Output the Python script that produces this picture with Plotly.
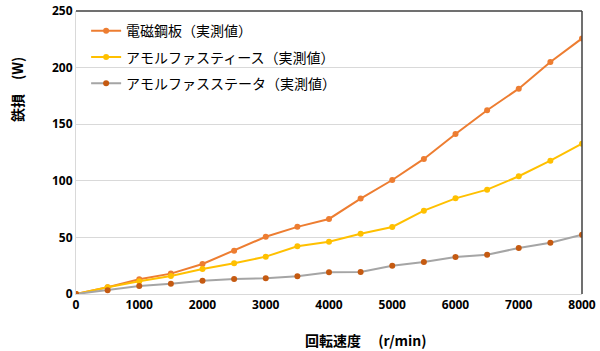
import plotly.graph_objects as go

speed = [0, 500, 1000, 1500, 2000, 2500, 3000, 3500, 4000, 4500, 5000, 5500, 6000, 6500, 7000, 7500, 8000]
steel = [0, 6, 13, 18, 26.5, 38.3, 50.6, 59.3, 66.3, 84.3, 100.7, 119.3, 141.3, 162.3, 181.4, 205, 225.8]
amorph_teeth = [0, 6, 11.2, 15.9, 22.1, 27.1, 33, 42.1, 46.2, 53.3, 59.2, 73.6, 84.5, 92.2, 104, 117.8, 132.8]
amorph_stator = [0, 3.3, 7.1, 9.1, 11.8, 13.3, 13.9, 15.6, 19.2, 19.5, 25, 28.3, 32.7, 34.7, 40.6, 45.3, 52.4]
names = ["電磁鋼板（実測値）", "アモルファスティース（実測値）", "アモルファスステータ（実測値）"]
yticks = [0, 50, 100, 150, 200, 250]
xticks = [0, 1000, 2000, 3000, 4000, 5000, 6000, 7000, 8000]

font = "Noto Sans CJK JP"
L, R, T, B = 76, 582, 11, 294
fig = go.Figure()
series = [
    (steel, "#ED7D31", "#ED7D31"),
    (amorph_teeth, "#FFC000", "#FFC000"),
    (amorph_stator, "#A5A5A5", "#C55A11"),
]
for i, ((vals, lc, mc), nm) in enumerate(zip(series, names)):
    fig.add_trace(go.Scatter(
        x=speed, y=vals, name=nm, mode="lines+markers", legendgroup=f"g{i}",
        line=dict(color=lc, width=2), marker=dict(color=mc, size=6),
    ))

fig.update_layout(
    width=600, height=351,
    margin=dict(l=L, r=600 - R, t=T, b=351 - B, autoexpand=False),
    paper_bgcolor="white", plot_bgcolor="white",
    font=dict(family=font, color="#000000", size=12),
    showlegend=True,
    legend=dict(x=0.02, y=0.985, xanchor="left", yanchor="top",
                bgcolor="rgba(0,0,0,0)", font=dict(size=14, family=font),
                itemwidth=30, tracegroupgap=5),
    xaxis=dict(range=[0, 8000], tickvals=xticks, showgrid=False,
               showline=True, linecolor="#D9D9D9", linewidth=1,
               tickfont=dict(size=12, family="Open Sans", weight="bold"),
               ticks="", zeroline=False, automargin=False),
    yaxis=dict(range=[0, 250], tickvals=yticks, showgrid=True, gridcolor="#D9D9D9",
               showline=True, linecolor="#D9D9D9", linewidth=1,
               tickfont=dict(size=12, family="Open Sans", weight="bold"),
               ticks="", zeroline=False, automargin=False),
    annotations=[
        dict(text="回転速度　 (r/min)", xref="paper", x=(366 - L) / (R - L),
             yref="paper", y=-(340 - B) / (B - T), xanchor="center", yanchor="middle",
             showarrow=False, font=dict(size=14, family=font, weight="bold")),
        dict(text="鉄損　(W)", textangle=-90, xref="paper", x=-(L - 17) / (R - L),
             yref="paper", y=(B - 90) / (B - T), xanchor="center", yanchor="middle",
             showarrow=False, font=dict(size=14, family=font, weight="bold")),
    ],
    shapes=[
        dict(type="line", xref="paper", yref="paper", x0=0, x1=1, y0=1, y1=1,
             line=dict(color="#404040", width=1.5)),
        dict(type="line", xref="paper", yref="paper", x0=1, x1=1, y0=0, y1=1,
             line=dict(color="#404040", width=1.5)),
    ],
)
fig.write_html("out.html")
